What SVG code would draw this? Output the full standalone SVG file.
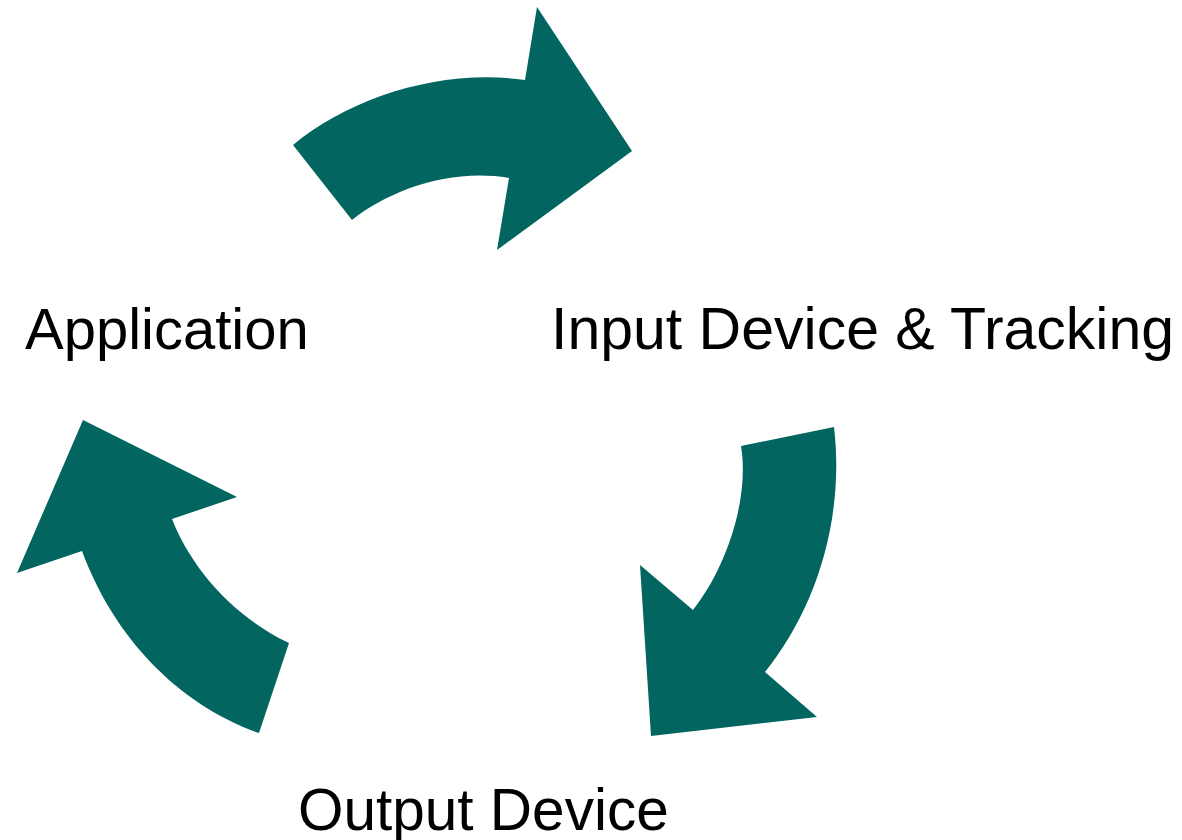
<svg xmlns="http://www.w3.org/2000/svg" width="1182" height="840" viewBox="0 0 1182 840">
<style>
.arrow{fill:#02655F;stroke:none}
.lbl{font-family:"Liberation Sans",Arial,sans-serif;font-size:58px;fill:#000}
</style>
<rect width="1182" height="840" fill="#fff"/>
<g id="connectors">
<path id="arrow-top" class="arrow" d="M293,145 C350,98 440,68 525,80 L537,7 L632,151 L497,250 L509,178 C450,168 390,190 352,220 Z"/>
<path id="arrow-right" class="arrow" d="M741,446 L834,427 C845,520 815,610 765,672 L817,717 L651,736 L640,565 L693,610 C725,570 750,500 741,446 Z"/>
<path id="arrow-left" class="arrow" d="M289,643 L259,733 C180,705 115,640 82,551 L17,573 L83,420 L237,497 L172,519 C190,565 230,615 289,643 Z"/>
</g>
<g id="node-application"><text class="lbl" x="25" y="349">Application</text></g>
<g id="node-input"><text class="lbl" x="551" y="349" style="font-size:59px">Input Device &amp; Tracking</text></g>
<g id="node-output"><text class="lbl" x="298" y="830" style="font-size:58.5px">Output Device</text></g>
</svg>
